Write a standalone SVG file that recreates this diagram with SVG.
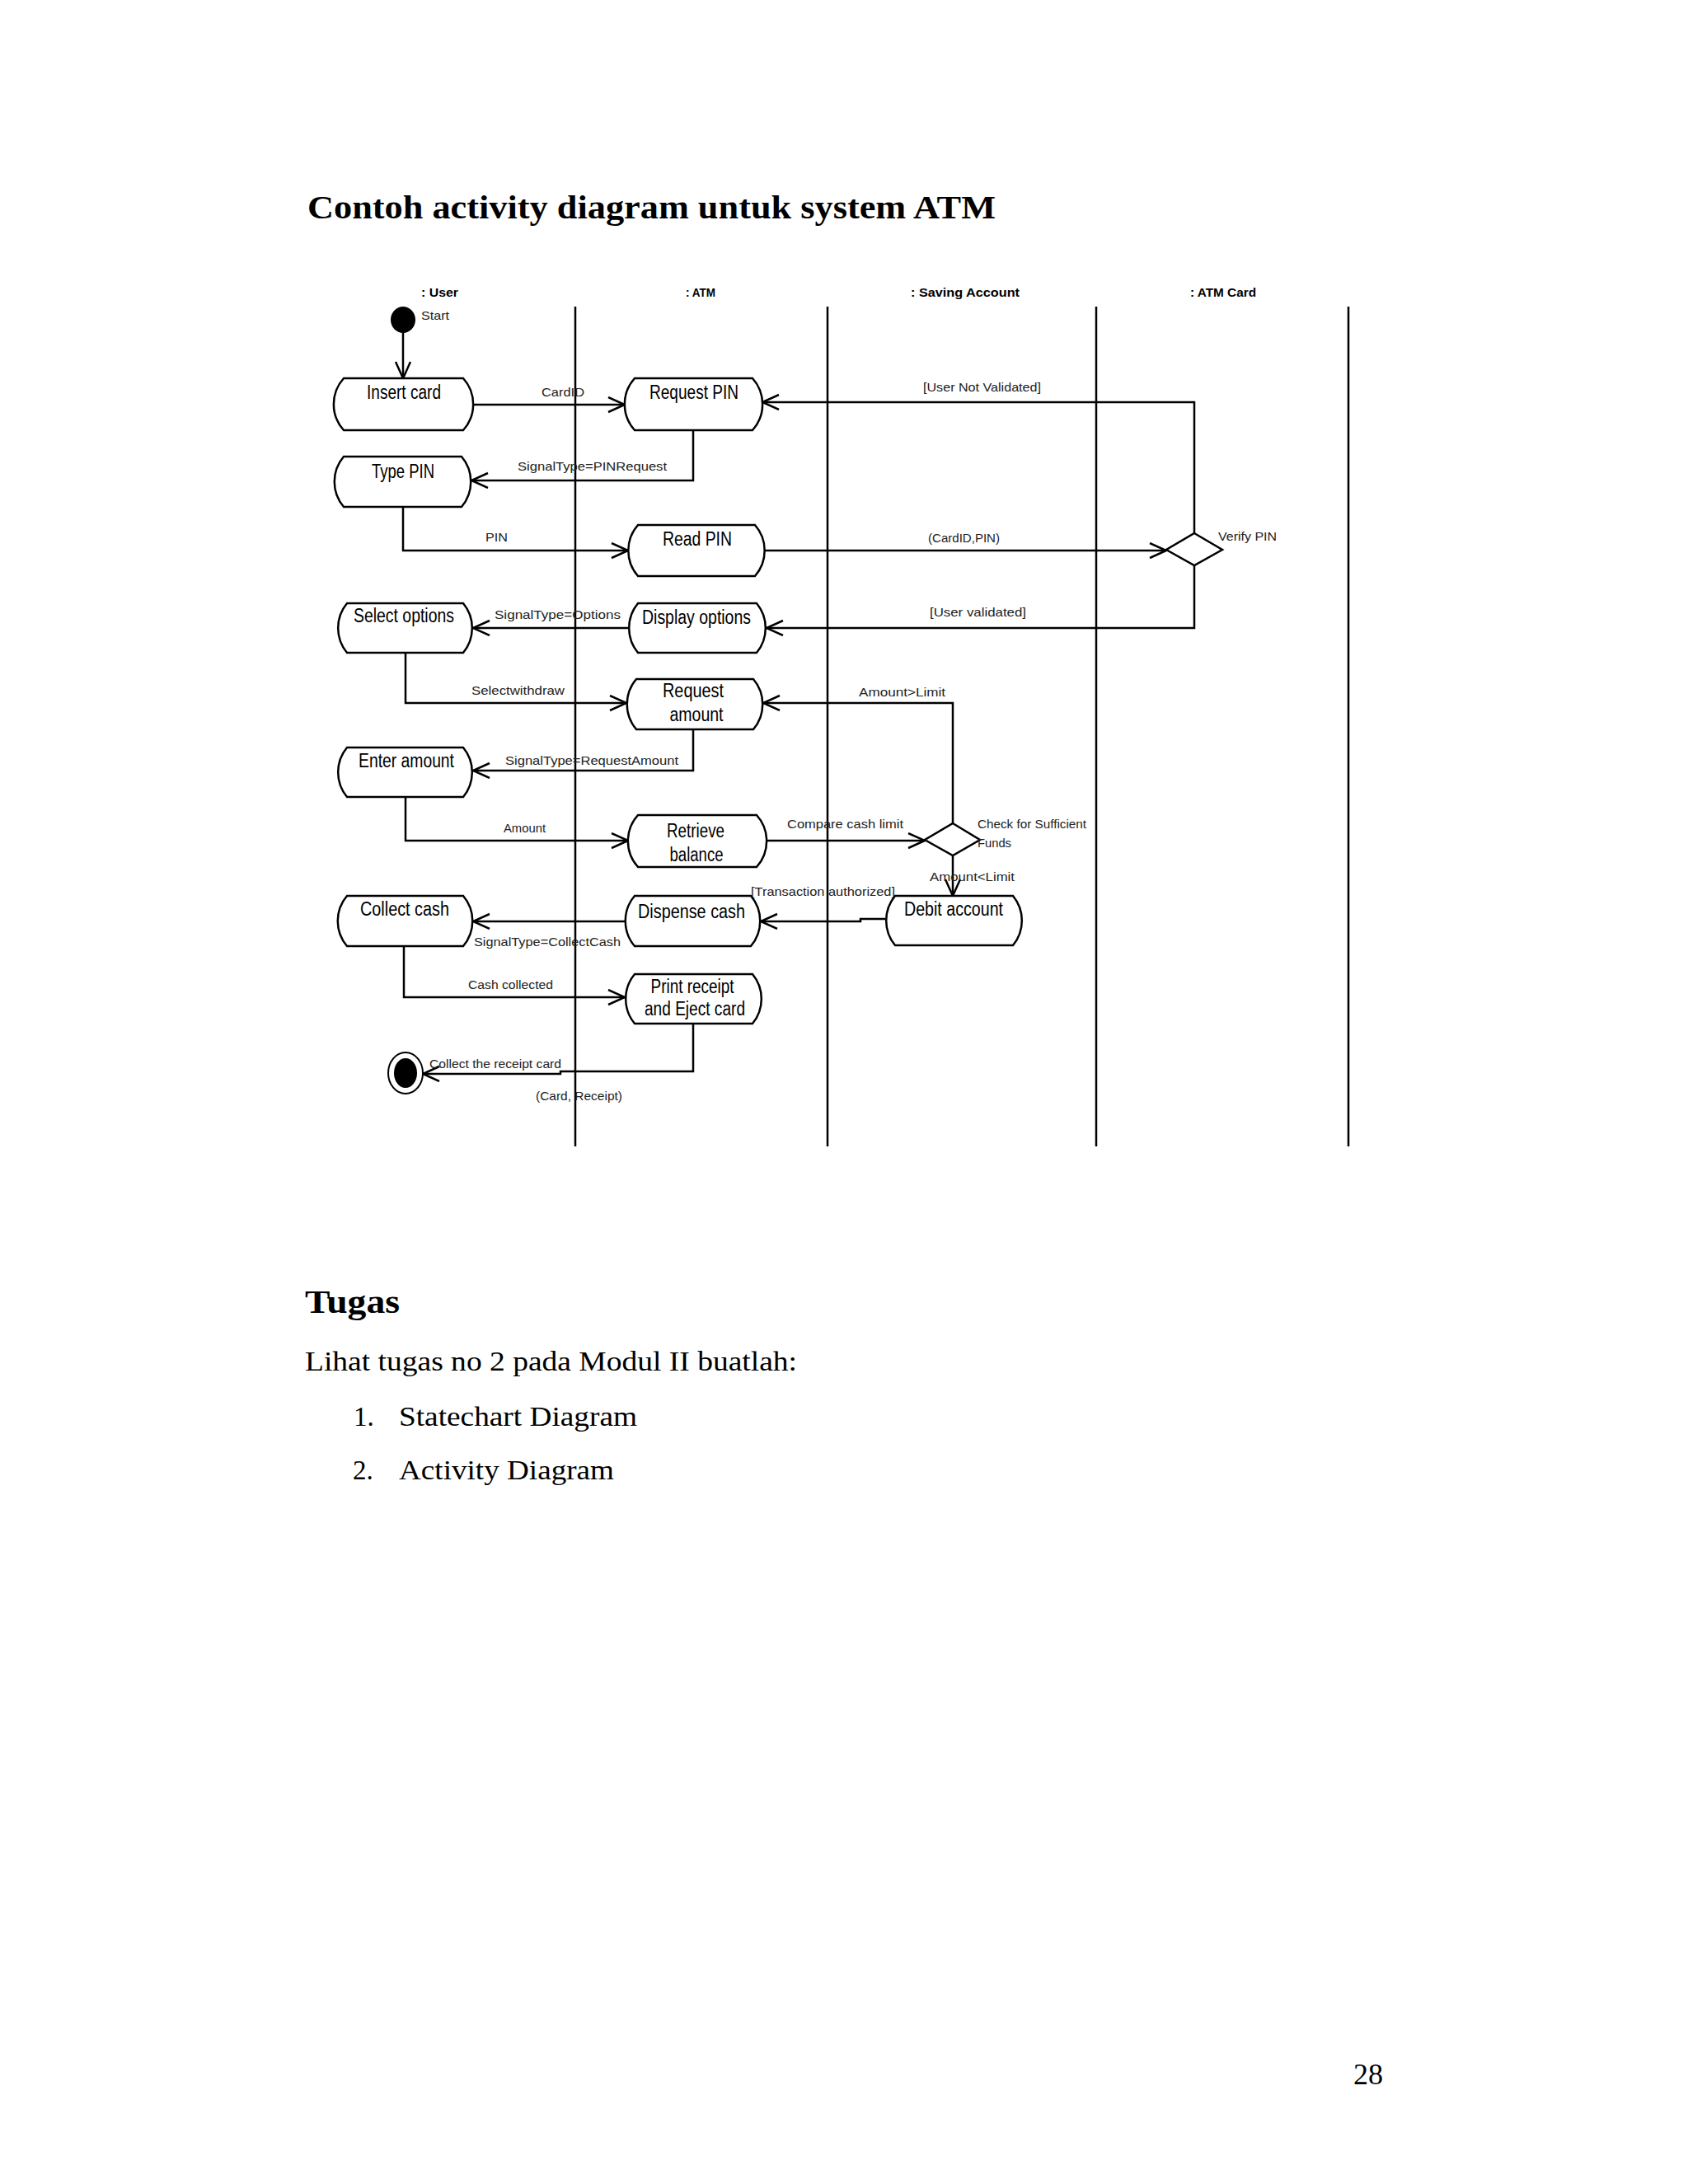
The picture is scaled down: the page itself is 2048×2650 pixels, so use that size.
<svg xmlns="http://www.w3.org/2000/svg" width="2048" height="2650" viewBox="0 0 2048 2650">
<style>
.page{font-family:"Liberation Serif","Times New Roman",serif;fill:#000}
.hd{font-family:"Liberation Sans",Arial,sans-serif;font-weight:bold;font-size:15px;fill:#000}
.nl{font-family:"Liberation Sans",Arial,sans-serif;font-size:23px;fill:#000;text-anchor:middle}
.sl{font-family:"Liberation Sans",Arial,sans-serif;font-size:15px;fill:#222}
.node{fill:#fff;stroke:#000;stroke-width:2.5}
.lane{stroke:#000;stroke-width:2.5;fill:none}
.edge{stroke:#000;stroke-width:2.5;fill:none;marker-end:url(#arr)}
</style>
<defs>
<marker id="arr" markerUnits="userSpaceOnUse" markerWidth="24" markerHeight="22" refX="21" refY="10" orient="auto">
<path d="M1,1 L21,10 L1,19" fill="none" stroke="#000" stroke-width="2.5"/>
</marker>
</defs>
<rect width="2048" height="2650" fill="#fff"/>

<!-- page text -->
<text class="page" x="373" y="265" font-size="40" font-weight="bold" textLength="835" lengthAdjust="spacingAndGlyphs">Contoh activity diagram untuk system ATM</text>
<text class="page" x="370" y="1593" font-size="40" font-weight="bold" textLength="115" lengthAdjust="spacingAndGlyphs">Tugas</text>
<text class="page" x="370" y="1663" font-size="33" textLength="597" lengthAdjust="spacingAndGlyphs">Lihat tugas no 2 pada Modul II buatlah:</text>
<text class="page" x="429" y="1730" font-size="33">1.</text>
<text class="page" x="484" y="1730" font-size="33" textLength="289" lengthAdjust="spacingAndGlyphs">Statechart Diagram</text>
<text class="page" x="428" y="1795" font-size="33">2.</text>
<text class="page" x="484" y="1795" font-size="33" textLength="261" lengthAdjust="spacingAndGlyphs">Activity Diagram</text>
<text class="page" x="1642" y="2529" font-size="36">28</text>

<!-- swimlanes -->
<g id="lanes">
<line class="lane" x1="698" y1="372" x2="698" y2="1391"/>
<line class="lane" x1="1004" y1="372" x2="1004" y2="1391"/>
<line class="lane" x1="1330" y1="372" x2="1330" y2="1391"/>
<line class="lane" x1="1636" y1="372" x2="1636" y2="1391"/>
<text class="hd" x="511" y="360" textLength="45" lengthAdjust="spacingAndGlyphs">: User</text>
<text class="hd" x="832" y="360" textLength="36" lengthAdjust="spacingAndGlyphs">: ATM</text>
<text class="hd" x="1105" y="360" textLength="132" lengthAdjust="spacingAndGlyphs">: Saving Account</text>
<text class="hd" x="1444" y="360" textLength="80" lengthAdjust="spacingAndGlyphs">: ATM Card</text>
</g>

<!-- connectors -->
<g id="connectors">
<path class="edge" d="M489,403 V459"/>
<path class="edge" d="M574,491 H758"/>
<path class="edge" d="M841,522 V583 H572"/>
<path class="edge" d="M489,615 V668 H762"/>
<path class="edge" d="M928,668 H1415"/>
<path class="edge" d="M1449,647 V488 H925"/>
<path class="edge" d="M1449,686 V762 H930"/>
<path class="edge" d="M762,762 H574"/>
<path class="edge" d="M492,792 V853 H760"/>
<path class="edge" d="M841,885 V935 H574"/>
<path class="edge" d="M492,967 V1020 H762"/>
<path class="edge" d="M930,1020 H1122"/>
<path class="edge" d="M1156,999 V853 H926"/>
<path class="edge" d="M1156,1038 V1087"/>
<path class="edge" d="M1074,1115 H1044 V1118 H923"/>
<path class="edge" d="M758,1118 H574"/>
<path class="edge" d="M490,1148 V1210 H758"/>
<path class="edge" d="M841,1242 V1300 H680 V1303 H513"/>

<text class="sl" x="657" y="481" textLength="52" lengthAdjust="spacingAndGlyphs">CardID</text>
<text class="sl" x="628" y="571" textLength="181" lengthAdjust="spacingAndGlyphs">SignalType=PINRequest</text>
<text class="sl" x="589" y="657" textLength="27" lengthAdjust="spacingAndGlyphs">PIN</text>
<text class="sl" x="1126" y="658" textLength="87" lengthAdjust="spacingAndGlyphs">(CardID,PIN)</text>
<text class="sl" x="1120" y="475" textLength="143" lengthAdjust="spacingAndGlyphs">[User Not Validated]</text>
<text class="sl" x="1128" y="748" textLength="117" lengthAdjust="spacingAndGlyphs">[User validated]</text>
<text class="sl" x="600" y="751" textLength="153" lengthAdjust="spacingAndGlyphs">SignalType=Options</text>
<text class="sl" x="572" y="843" textLength="113" lengthAdjust="spacingAndGlyphs">Selectwithdraw</text>
<text class="sl" x="613" y="928" textLength="210" lengthAdjust="spacingAndGlyphs">SignalType=RequestAmount</text>
<text class="sl" x="1042" y="845" textLength="105" lengthAdjust="spacingAndGlyphs">Amount&gt;Limit</text>
<text class="sl" x="611" y="1010" textLength="51" lengthAdjust="spacingAndGlyphs">Amount</text>
<text class="sl" x="955" y="1005" textLength="141" lengthAdjust="spacingAndGlyphs">Compare cash limit</text>
<text class="sl" x="1128" y="1069" textLength="103" lengthAdjust="spacingAndGlyphs">Amount&lt;Limit</text>
<text class="sl" x="911" y="1087" textLength="175" lengthAdjust="spacingAndGlyphs">[Transaction authorized]</text>
<text class="sl" x="575" y="1148" textLength="178" lengthAdjust="spacingAndGlyphs">SignalType=CollectCash</text>
<text class="sl" x="568" y="1200" textLength="103" lengthAdjust="spacingAndGlyphs">Cash collected</text>
<text class="sl" x="521" y="1296" textLength="160" lengthAdjust="spacingAndGlyphs">Collect the receipt card</text>
<text class="sl" x="650" y="1335" textLength="105" lengthAdjust="spacingAndGlyphs">(Card, Receipt)</text>
</g>

<!-- nodes -->
<g id="start">
<ellipse cx="489" cy="388" rx="15" ry="16" fill="#000"/>
<text class="sl" x="511" y="388" textLength="34" lengthAdjust="spacingAndGlyphs">Start</text>
</g>
<g id="insert-card">
<path class="node" d="M417,459 H562 A47,47 0 0 1 562,522 H417 A47,47 0 0 1 417,459 Z"/>
<text class="nl" x="490" y="484" textLength="90" lengthAdjust="spacingAndGlyphs">Insert card</text>
</g>
<g id="request-pin">
<path class="node" d="M770,459 H913 A47,47 0 0 1 913,522 H770 A47,47 0 0 1 770,459 Z"/>
<text class="nl" x="842" y="484" textLength="108" lengthAdjust="spacingAndGlyphs">Request PIN</text>
</g>
<g id="type-pin">
<path class="node" d="M417,554 H560 A47,47 0 0 1 560,615 H417 A47,47 0 0 1 417,554 Z"/>
<text class="nl" x="489" y="580" textLength="76" lengthAdjust="spacingAndGlyphs">Type PIN</text>
</g>
<g id="read-pin">
<path class="node" d="M774,637 H916 A47,47 0 0 1 916,699 H774 A47,47 0 0 1 774,637 Z"/>
<text class="nl" x="846" y="662" textLength="84" lengthAdjust="spacingAndGlyphs">Read PIN</text>
</g>
<g id="verify-pin">
<path class="node" d="M1449,647 L1483,667 L1449,686 L1415,667 Z"/>
<text class="sl" x="1478" y="656" textLength="71" lengthAdjust="spacingAndGlyphs">Verify PIN</text>
</g>
<g id="select-options">
<path class="node" d="M421,732 H562 A47,47 0 0 1 562,792 H421 A47,47 0 0 1 421,732 Z"/>
<text class="nl" x="490" y="755" textLength="122" lengthAdjust="spacingAndGlyphs">Select options</text>
</g>
<g id="display-options">
<path class="node" d="M774,732 H918 A47,47 0 0 1 918,792 H774 A47,47 0 0 1 774,732 Z"/>
<text class="nl" x="845" y="757" textLength="132" lengthAdjust="spacingAndGlyphs">Display options</text>
</g>
<g id="request-amount">
<path class="node" d="M772,824 H914 A47,47 0 0 1 914,885 H772 A47,47 0 0 1 772,824 Z"/>
<text class="nl" x="841" y="846" textLength="74" lengthAdjust="spacingAndGlyphs">Request</text>
<text class="nl" x="845" y="875" textLength="65" lengthAdjust="spacingAndGlyphs">amount</text>
</g>
<g id="enter-amount">
<path class="node" d="M421,907 H562 A47,47 0 0 1 562,967 H421 A47,47 0 0 1 421,907 Z"/>
<text class="nl" x="493" y="931" textLength="116" lengthAdjust="spacingAndGlyphs">Enter amount</text>
</g>
<g id="retrieve-balance">
<path class="node" d="M774,989 H918 A47,47 0 0 1 918,1052 H774 A47,47 0 0 1 774,989 Z"/>
<text class="nl" x="844" y="1016" textLength="70" lengthAdjust="spacingAndGlyphs">Retrieve</text>
<text class="nl" x="845" y="1045" textLength="65" lengthAdjust="spacingAndGlyphs">balance</text>
</g>
<g id="check-funds">
<path class="node" d="M1156,999 L1189,1019 L1156,1038 L1122,1019 Z"/>
<text class="sl" x="1186" y="1005" textLength="132" lengthAdjust="spacingAndGlyphs">Check for Sufficient</text>
<text class="sl" x="1186" y="1028" textLength="41" lengthAdjust="spacingAndGlyphs">Funds</text>
</g>
<g id="debit-account">
<path class="node" d="M1086,1087 H1229 A47,47 0 0 1 1229,1147 H1086 A47,47 0 0 1 1086,1087 Z"/>
<text class="nl" x="1157" y="1111" textLength="120" lengthAdjust="spacingAndGlyphs">Debit account</text>
</g>
<g id="collect-cash">
<path class="node" d="M421,1087 H562 A47,47 0 0 1 562,1148 H421 A47,47 0 0 1 421,1087 Z"/>
<text class="nl" x="491" y="1111" textLength="108" lengthAdjust="spacingAndGlyphs">Collect cash</text>
</g>
<g id="dispense-cash">
<path class="node" d="M770,1087 H911 A47,47 0 0 1 911,1148 H770 A47,47 0 0 1 770,1087 Z"/>
<text class="nl" x="839" y="1114" textLength="130" lengthAdjust="spacingAndGlyphs">Dispense cash</text>
</g>
<g id="print-receipt">
<path class="node" d="M770,1182 H913 A47,47 0 0 1 913,1242 H770 A47,47 0 0 1 770,1182 Z"/>
<text class="nl" x="840" y="1205" textLength="101" lengthAdjust="spacingAndGlyphs">Print receipt</text>
<text class="nl" x="843" y="1232" textLength="122" lengthAdjust="spacingAndGlyphs">and Eject card</text>
</g>
<g id="end">
<ellipse cx="492" cy="1302" rx="21" ry="25" fill="#fff" stroke="#000" stroke-width="2"/>
<ellipse cx="492" cy="1302" rx="14" ry="18" fill="#000"/>
</g>
</svg>
